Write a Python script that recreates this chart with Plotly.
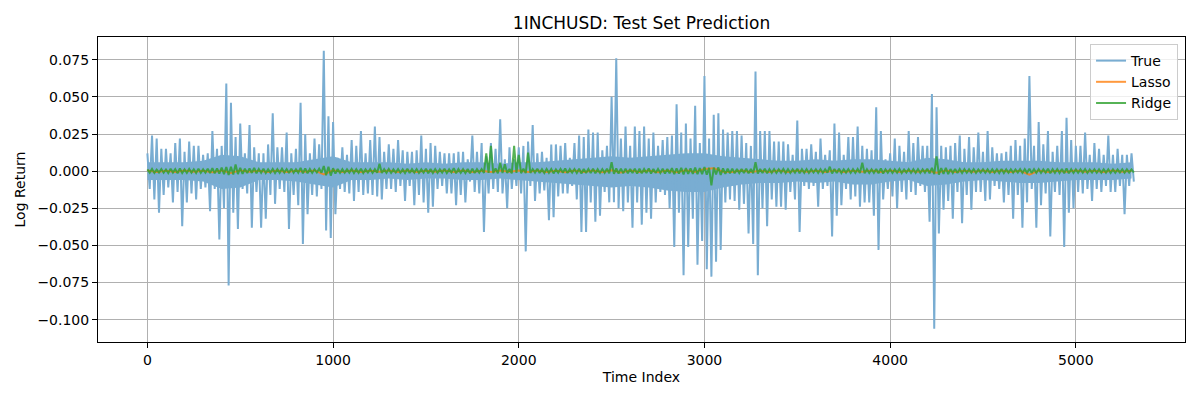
import numpy as np
import plotly.graph_objects as go

# True log return, read off the picture as per-window extremes
# (one window = 25 time steps): upper and lower excursion of each window
STEP = 25
true_hi = [
    0.012, 0.024, 0.022, 0.015, 0.015, 0.012, 0.019, 0.022, 0.013, 0.020,
    0.017, 0.017, 0.011, 0.012, 0.027, 0.015, 0.017, 0.059, 0.046, 0.023,
    0.032, 0.012, 0.031, 0.016, 0.012, 0.012, 0.018, 0.039, 0.016, 0.016,
    0.026, 0.012, 0.015, 0.046, 0.025, 0.012, 0.022, 0.018, 0.081, 0.037,
    0.033, 0.009, 0.016, 0.011, 0.021, 0.017, 0.027, 0.012, 0.021, 0.030,
    0.023, 0.013, 0.018, 0.015, 0.021, 0.014, 0.013, 0.013, 0.014, 0.024,
    0.015, 0.019, 0.017, 0.013, 0.012, 0.012, 0.012, 0.013, 0.013, 0.008,
    0.024, 0.013, 0.019, 0.010, 0.019, 0.015, 0.035, 0.008, 0.016, 0.008,
    0.016, 0.017, 0.020, 0.031, 0.012, 0.013, 0.009, 0.018, 0.018, 0.017,
    0.019, 0.009, 0.019, 0.024, 0.023, 0.028, 0.026, 0.026, 0.014, 0.017,
    0.050, 0.076, 0.022, 0.030, 0.017, 0.030, 0.027, 0.030, 0.022, 0.026,
    0.017, 0.021, 0.023, 0.024, 0.045, 0.026, 0.032, 0.022, 0.044, 0.019,
    0.064, 0.022, 0.038, 0.039, 0.028, 0.026, 0.027, 0.027, 0.024, 0.019,
    0.017, 0.067, 0.027, 0.027, 0.027, 0.020, 0.020, 0.020, 0.018, 0.011,
    0.034, 0.015, 0.015, 0.018, 0.013, 0.022, 0.011, 0.014, 0.032, 0.026,
    0.011, 0.023, 0.023, 0.030, 0.017, 0.015, 0.014, 0.043, 0.027, 0.008,
    0.012, 0.022, 0.017, 0.013, 0.027, 0.019, 0.023, 0.017, 0.017, 0.052,
    0.043, 0.017, 0.016, 0.017, 0.019, 0.024, 0.015, 0.023, 0.016, 0.026,
    0.013, 0.027, 0.016, 0.012, 0.012, 0.013, 0.017, 0.021, 0.017, 0.022,
    0.064, 0.017, 0.033, 0.018, 0.027, 0.013, 0.017, 0.027, 0.036, 0.021,
    0.017, 0.017, 0.026, 0.011, 0.019, 0.015, 0.011, 0.024, 0.011, 0.015,
    0.011, 0.011, 0.012,
]
true_lo = [
    -0.012, -0.019, -0.028, -0.016, -0.011, -0.021, -0.014, -0.037, -0.021, -0.015,
    -0.019, -0.012, -0.011, -0.027, -0.012, -0.046, -0.025, -0.077, -0.028, -0.039,
    -0.012, -0.015, -0.038, -0.014, -0.038, -0.032, -0.016, -0.022, -0.012, -0.014,
    -0.039, -0.016, -0.023, -0.049, -0.029, -0.016, -0.017, -0.012, -0.040, -0.045,
    -0.029, -0.012, -0.014, -0.015, -0.020, -0.014, -0.016, -0.015, -0.016, -0.017,
    -0.019, -0.012, -0.012, -0.014, -0.010, -0.020, -0.010, -0.023, -0.016, -0.021,
    -0.028, -0.024, -0.012, -0.010, -0.015, -0.015, -0.023, -0.016, -0.021, -0.007,
    -0.014, -0.015, -0.041, -0.015, -0.012, -0.014, -0.015, -0.025, -0.012, -0.010,
    -0.015, -0.054, -0.010, -0.020, -0.015, -0.013, -0.033, -0.031, -0.017, -0.015,
    -0.015, -0.010, -0.019, -0.041, -0.041, -0.021, -0.034, -0.030, -0.014, -0.021,
    -0.021, -0.025, -0.027, -0.021, -0.038, -0.021, -0.036, -0.028, -0.032, -0.021,
    -0.014, -0.016, -0.025, -0.051, -0.028, -0.070, -0.051, -0.032, -0.063, -0.047,
    -0.066, -0.071, -0.061, -0.053, -0.021, -0.019, -0.020, -0.026, -0.022, -0.042,
    -0.049, -0.070, -0.025, -0.037, -0.019, -0.024, -0.024, -0.026, -0.014, -0.019,
    -0.041, -0.010, -0.012, -0.010, -0.024, -0.012, -0.010, -0.044, -0.030, -0.023,
    -0.012, -0.019, -0.017, -0.024, -0.021, -0.021, -0.030, -0.053, -0.019, -0.012,
    -0.017, -0.025, -0.014, -0.019, -0.014, -0.016, -0.010, -0.014, -0.034, -0.106,
    -0.042, -0.026, -0.020, -0.032, -0.014, -0.035, -0.016, -0.026, -0.014, -0.014,
    -0.020, -0.019, -0.010, -0.012, -0.021, -0.016, -0.032, -0.016, -0.038, -0.021,
    -0.012, -0.038, -0.023, -0.015, -0.044, -0.014, -0.016, -0.051, -0.028, -0.025,
    -0.014, -0.015, -0.012, -0.020, -0.012, -0.014, -0.010, -0.014, -0.014, -0.010,
    -0.029, -0.010, -0.007,
]

# where the True trace is packed solid (every 100 steps), upper and lower edge
CORE_STEP = 100
true_core_hi = [
    0.006, 0.006, 0.006, 0.007, 0.011, 0.010, 0.006, 0.006, 0.006, 0.008,
    0.010, 0.006, 0.006, 0.006, 0.005, 0.006, 0.005, 0.006, 0.006, 0.005,
    0.006, 0.006, 0.007, 0.008, 0.009, 0.010, 0.009, 0.010, 0.011, 0.012,
    0.012, 0.010, 0.009, 0.008, 0.007, 0.007, 0.008, 0.007, 0.008, 0.008,
    0.007, 0.006, 0.009, 0.008, 0.006, 0.006, 0.007, 0.007, 0.007, 0.006,
    0.006, 0.006, 0.005, 0.006,
]
true_core_lo = [
    -0.006, -0.006, -0.006, -0.007, -0.012, -0.011, -0.006, -0.006, -0.007, -0.009,
    -0.011, -0.006, -0.006, -0.005, -0.006, -0.005, -0.005, -0.006, -0.006, -0.005,
    -0.006, -0.007, -0.008, -0.009, -0.010, -0.011, -0.010, -0.011, -0.013, -0.014,
    -0.014, -0.011, -0.009, -0.008, -0.008, -0.007, -0.008, -0.007, -0.009, -0.009,
    -0.007, -0.006, -0.010, -0.009, -0.007, -0.006, -0.007, -0.008, -0.008, -0.007,
    -0.006, -0.006, -0.006, -0.005,
]

# Ridge prediction, same 25-step windows (upper / lower excursion)
ridge_hi = [
    0.0012, 0.0015, 0.0010, 0.0014, 0.0011, 0.0016, 0.0013, 0.0018, 0.0012, 0.0015,
    0.0013, 0.0017, 0.0012, 0.0016, 0.0020, 0.0018, 0.0024, 0.0028, 0.0030, 0.0045,
    0.0022, 0.0016, 0.0019, 0.0021, 0.0014, 0.0016, 0.0012, 0.0015, 0.0013, 0.0016,
    0.0014, 0.0017, 0.0013, 0.0022, 0.0018, 0.0014, 0.0013, 0.0016, 0.0035, 0.0030,
    0.0020, 0.0014, 0.0013, 0.0012, 0.0015, 0.0013, 0.0016, 0.0012, 0.0014, 0.0013,
    0.0050, 0.0013, 0.0015, 0.0012, 0.0014, 0.0012, 0.0016, 0.0013, 0.0014, 0.0012,
    0.0017, 0.0015, 0.0014, 0.0013, 0.0016, 0.0012, 0.0020, 0.0014, 0.0013, 0.0015,
    0.0016, 0.0013, 0.0014, 0.0120, 0.0170, 0.0018, 0.0056, 0.0047, 0.0015, 0.0170,
    0.0110, 0.0016, 0.0125, 0.0014, 0.0016, 0.0013, 0.0015, 0.0014, 0.0012, 0.0015,
    0.0018, 0.0013, 0.0014, 0.0016, 0.0015, 0.0014, 0.0017, 0.0013, 0.0014, 0.0016,
    0.0060, 0.0018, 0.0017, 0.0016, 0.0015, 0.0017, 0.0016, 0.0014, 0.0018, 0.0015,
    0.0014, 0.0016, 0.0015, 0.0020, 0.0018, 0.0022, 0.0020, 0.0019, 0.0024, 0.0021,
    0.0028, 0.0022, 0.0024, 0.0025, 0.0019, 0.0016, 0.0017, 0.0014, 0.0015, 0.0016,
    0.0015, 0.0060, 0.0014, 0.0016, 0.0013, 0.0014, 0.0012, 0.0015, 0.0013, 0.0012,
    0.0017, 0.0013, 0.0014, 0.0012, 0.0013, 0.0014, 0.0012, 0.0030, 0.0014, 0.0016,
    0.0012, 0.0014, 0.0013, 0.0015, 0.0056, 0.0013, 0.0012, 0.0015, 0.0018, 0.0012,
    0.0013, 0.0012, 0.0015, 0.0011, 0.0014, 0.0013, 0.0014, 0.0012, 0.0016, 0.0022,
    0.0100, 0.0020, 0.0023, 0.0014, 0.0015, 0.0014, 0.0013, 0.0012, 0.0014, 0.0011,
    0.0013, 0.0012, 0.0012, 0.0013, 0.0015, 0.0012, 0.0013, 0.0011, 0.0014, 0.0013,
    0.0016, 0.0013, 0.0014, 0.0012, 0.0017, 0.0013, 0.0014, 0.0015, 0.0018, 0.0013,
    0.0012, 0.0012, 0.0014, 0.0011, 0.0013, 0.0012, 0.0012, 0.0013, 0.0012, 0.0011,
    0.0013, 0.0012, 0.0012,
]
ridge_lo = [
    -0.0010, -0.0012, -0.0009, -0.0011, -0.0013, -0.0010, -0.0014, -0.0012, -0.0011, -0.0010,
    -0.0012, -0.0011, -0.0010, -0.0013, -0.0015, -0.0016, -0.0020, -0.0025, -0.0022, -0.0020,
    -0.0018, -0.0013, -0.0012, -0.0014, -0.0011, -0.0012, -0.0010, -0.0013, -0.0011, -0.0010,
    -0.0012, -0.0011, -0.0010, -0.0015, -0.0014, -0.0012, -0.0009, -0.0011, -0.0028, -0.0030,
    -0.0016, -0.0012, -0.0011, -0.0010, -0.0012, -0.0011, -0.0013, -0.0009, -0.0012, -0.0011,
    -0.0012, -0.0011, -0.0012, -0.0009, -0.0011, -0.0012, -0.0013, -0.0010, -0.0012, -0.0010,
    -0.0014, -0.0012, -0.0011, -0.0010, -0.0013, -0.0009, -0.0015, -0.0011, -0.0012, -0.0014,
    -0.0013, -0.0010, -0.0012, -0.0012, -0.0013, -0.0015, -0.0012, -0.0013, -0.0015, -0.0012,
    -0.0014, -0.0013, -0.0012, -0.0010, -0.0013, -0.0012, -0.0011, -0.0015, -0.0010, -0.0011,
    -0.0013, -0.0010, -0.0012, -0.0016, -0.0013, -0.0013, -0.0014, -0.0012, -0.0011, -0.0014,
    -0.0018, -0.0016, -0.0015, -0.0015, -0.0013, -0.0017, -0.0014, -0.0012, -0.0016, -0.0013,
    -0.0012, -0.0016, -0.0014, -0.0020, -0.0017, -0.0022, -0.0019, -0.0018, -0.0021, -0.0020,
    -0.0024, -0.0096, -0.0022, -0.0025, -0.0018, -0.0014, -0.0015, -0.0012, -0.0013, -0.0015,
    -0.0014, -0.0016, -0.0013, -0.0014, -0.0011, -0.0012, -0.0010, -0.0013, -0.0012, -0.0010,
    -0.0015, -0.0011, -0.0012, -0.0009, -0.0011, -0.0012, -0.0010, -0.0016, -0.0013, -0.0012,
    -0.0010, -0.0012, -0.0011, -0.0013, -0.0015, -0.0012, -0.0011, -0.0014, -0.0016, -0.0010,
    -0.0012, -0.0010, -0.0013, -0.0009, -0.0012, -0.0011, -0.0012, -0.0010, -0.0015, -0.0020,
    -0.0024, -0.0018, -0.0020, -0.0012, -0.0013, -0.0013, -0.0011, -0.0010, -0.0012, -0.0009,
    -0.0011, -0.0011, -0.0010, -0.0012, -0.0013, -0.0010, -0.0011, -0.0009, -0.0012, -0.0011,
    -0.0013, -0.0012, -0.0012, -0.0010, -0.0014, -0.0011, -0.0012, -0.0014, -0.0015, -0.0012,
    -0.0011, -0.0010, -0.0012, -0.0009, -0.0011, -0.0011, -0.0010, -0.0012, -0.0011, -0.0009,
    -0.0011, -0.0010, -0.0009,
]

# Lasso prediction, one value every 50 steps
lasso = [
    0.0004, -0.0006, 0.0003, -0.0005, 0.0005, -0.0004, 0.0003, -0.0007, 0.0004, -0.0013,
    0.0005, -0.0004, 0.0003, -0.0006, 0.0004, -0.0005, 0.0003, -0.0004, 0.0005, -0.0022,
    0.0006, -0.0005, 0.0004, -0.0006, 0.0003, -0.0004, 0.0005, -0.0005, 0.0004, -0.0006,
    0.0003, -0.0004, 0.0005, -0.0005, 0.0004, -0.0006, 0.0003, -0.0005, 0.0004, -0.0004,
    0.0005, -0.0006, 0.0004, -0.0005, 0.0003, -0.0008, 0.0005, -0.0006, 0.0004, -0.0007,
    0.0006, -0.0009, 0.0005, -0.0006, 0.0004, -0.0007, 0.0005, -0.0008, 0.0006, -0.0006,
    0.0015, 0.002, -0.0004, -0.0006, 0.0004, -0.0005, 0.0003, -0.0006, 0.0004, -0.0005,
    0.0005, -0.0004, 0.0003, -0.0006, 0.0004, -0.0005, 0.0003, -0.0004, 0.0005, -0.0006,
    0.0004, -0.0005, 0.0003, -0.0004, 0.0005, -0.0011, 0.0004, -0.0005, 0.0003, -0.0004,
    0.0005, -0.0006, 0.0004, -0.0005, 0.0003, -0.0023, 0.0004, -0.0005, 0.0003, -0.0004,
    0.0005, -0.0004, 0.0003, -0.0005, 0.0004, -0.0004, 0.0003,
]


def interleave(hi, lo, step):
    """Window extremes -> one zig-zag series (high at window start, low at mid-window)."""
    k = np.arange(len(hi))
    x = np.empty(2 * len(hi))
    y = np.empty(2 * len(hi))
    x[0::2] = k * step
    x[1::2] = k * step + step / 2
    y[0::2] = hi
    y[1::2] = lo
    return x, y


true_x, true_y = interleave(true_hi, true_lo, STEP)
ridge_x, ridge_y = interleave(ridge_hi, ridge_lo, STEP)
lasso_x = np.arange(len(lasso)) * 2 * STEP
core_x = np.arange(len(true_core_hi)) * CORE_STEP

FONT = "DejaVu Sans"
GRID = "#b0b0b0"
TRUE_C = "#79add2"   # tab:blue at alpha 0.6 on white

fig = go.Figure()
fig.add_trace(go.Scatter(
    x=np.concatenate([core_x, core_x[::-1]]),
    y=np.concatenate([true_core_hi, true_core_lo[::-1]]),
    mode="lines", fill="toself", fillcolor=TRUE_C, line=dict(width=0),
    showlegend=False, hoverinfo="skip"))
fig.add_trace(go.Scatter(x=true_x, y=true_y, mode="lines", name="True",
                         line=dict(color=TRUE_C, width=2, simplify=False)))
fig.add_trace(go.Scatter(x=lasso_x, y=lasso, mode="lines", name="Lasso",
                         line=dict(color="#ff7f0e", width=2, simplify=False),
                         opacity=0.8))
fig.add_trace(go.Scatter(x=ridge_x, y=ridge_y, mode="lines", name="Ridge",
                         line=dict(color="#2ca02c", width=2, simplify=False),
                         opacity=0.8))

axis_common = dict(
    showgrid=True, gridcolor=GRID, gridwidth=1, zeroline=False,
    showline=True, linecolor="black", linewidth=1, mirror=True,
    ticks="outside", ticklen=5, tickwidth=1, tickcolor="black",
    tickfont=dict(family=FONT, size=14, color="black"),
)

# page body adds an 8 px margin, so the figure is 8 px smaller and shifted
fig.update_layout(
    width=1192, height=392,
    margin=dict(l=88, r=15, t=29, b=58),
    paper_bgcolor="white", plot_bgcolor="white",
    font=dict(family=FONT, size=14, color="black"),
    title=dict(text="1INCHUSD: Test Set Prediction", x=0.5, xref="paper",
               y=1 - 15 / 392, yref="container", yanchor="middle",
               font=dict(family=FONT, size=17, color="black")),
    xaxis=dict(range=[-266, 5588], tickmode="array",
               tickvals=[0, 1000, 2000, 3000, 4000, 5000], tickformat="d",
               title=dict(text="Time Index", standoff=5,
                          font=dict(family=FONT, size=14)),
               **axis_common),
    yaxis=dict(range=[-0.1150, 0.0903], tickmode="array",
               tickvals=[-0.1, -0.075, -0.05, -0.025, 0, 0.025, 0.05, 0.075],
               tickformat=".3f",
               title=dict(text="Log Return", standoff=8,
                          font=dict(family=FONT, size=14)),
               **axis_common),
    legend=dict(x=0.9936, xanchor="right", y=0.977, yanchor="top",
                bgcolor="rgba(255,255,255,0.8)", bordercolor="#cccccc",
                borderwidth=1, itemwidth=30,
                font=dict(family=FONT, size=14, color="black")),
    showlegend=True,
)

fig.write_html("out.html")
